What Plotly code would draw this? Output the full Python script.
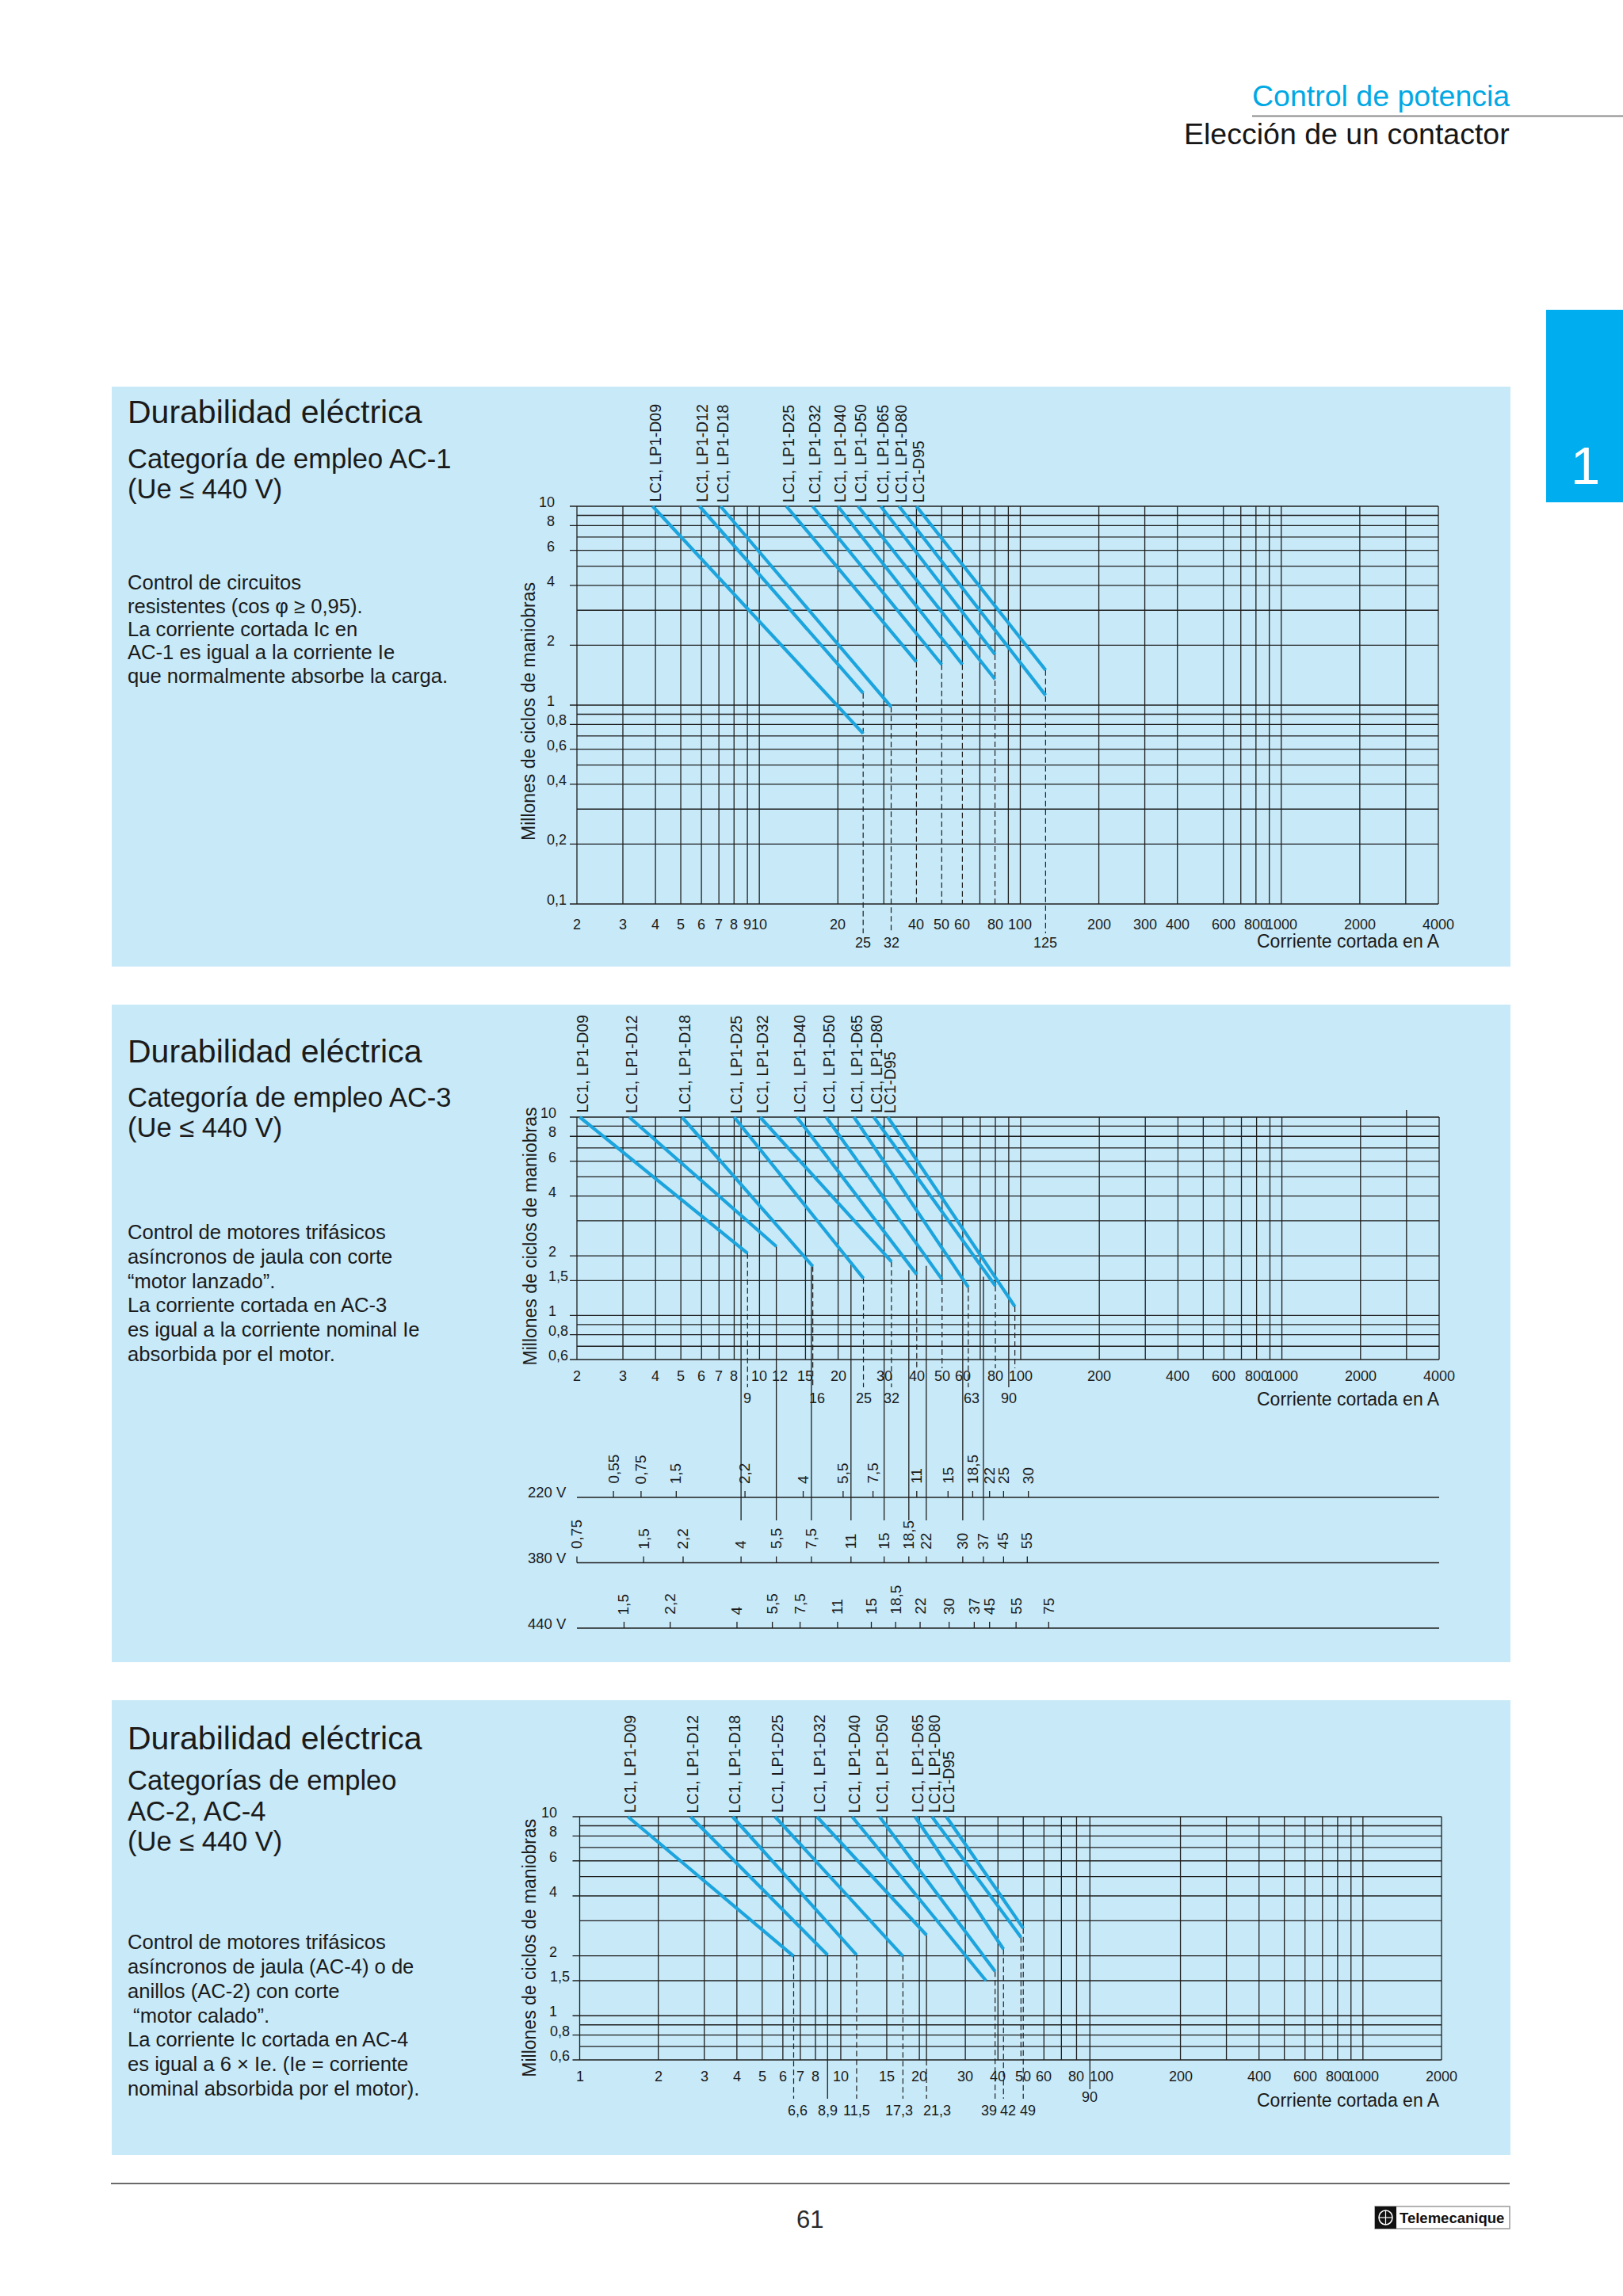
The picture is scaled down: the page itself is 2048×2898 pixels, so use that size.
import numpy as np
import plotly.graph_objects as go

W, H = 2048, 2898
FONT = "Liberation Sans, Arial, Helvetica, sans-serif"
INK = "#1b1b1b"
GRID = "#1f1f1f"
CURVE = "#1ba4dd"
PANEL = "#c7e9f8"
CYAN = "#00aeef"

# ============================ DATA ============================
curve_names = ["LC1, LP1-D09", "LC1, LP1-D12", "LC1, LP1-D18", "LC1, LP1-D25",
               "LC1, LP1-D32", "LC1, LP1-D40", "LC1, LP1-D50", "LC1, LP1-D65",
               "LC1, LP1-D80", "LC1-D95"]

# --- AC-1 : millions of operating cycles vs breaking current (A)
ac1_start_x = [3.9, 5.9, 7.1, 12.7, 16.0, 20.0, 23.9, 29.2, 34.3, 40.0]
ac1_end_x = [25, 25, 32, 40, 50, 60, 80, 80, 125, 125]
ac1_end_y = [0.72, 1.15, 0.98, 1.65, 1.60, 1.60, 1.35, 1.80, 1.12, 1.50]
ac1_grid_y = [10, 9, 8, 7, 6, 5, 4, 3, 2, 1, 0.9, 0.8, 0.7, 0.6, 0.5, 0.4, 0.3, 0.2, 0.1]
ac1_ytick = [10, 8, 6, 4, 2, 1, 0.8, 0.6, 0.4, 0.2, 0.1]
ac1_grid_x = [2, 3, 4, 5, 6, 7, 8, 9, 10, 20, 30, 70, 90, 100, 200, 300, 400,
              600, 700, 800, 900, 1000, 2000, 3000, 4000]
ac1_grid_x_upper = [40, 50, 60, 80]
ac1_xtick = [2, 3, 4, 5, 6, 7, 8, 9, 10, 20, 40, 50, 60, 80, 100, 200, 300, 400,
             600, 800, 1000, 2000, 4000]
ac1_xtick2 = [25, 32, 125]

# --- AC-3
ac3_start_x = [2.05, 3.17, 5.05, 8.0, 10.05, 13.9, 18.0, 23.0, 27.4, 31.0]
ac3_end_x = [9, 11.6, 16, 25, 32, 40, 50, 63, 80, 95]
ac3_end_y = [2.06, 2.23, 1.77, 1.54, 1.87, 1.61, 1.52, 1.39, 1.41, 1.11]
ac3_grid_y = [10, 9, 8, 7, 6, 5, 4, 3, 2, 1.5, 1, 0.9, 0.8, 0.7, 0.6]
ac3_ytick = [10, 8, 6, 4, 2, 1.5, 1, 0.8, 0.6]
ac3_grid_x = [2, 3, 4, 5, 6, 7, 8, 10, 15, 20, 70, 100, 200, 300, 400, 500, 600,
              700, 800, 900, 1000, 2000, 3000, 4000]
ac3_grid_x_upper = [40, 50, 80]
ac3_xtick = [2, 3, 4, 5, 6, 7, 8, 10, 12, 15, 20, 30, 40, 50, 60, 80, 100, 200,
             400, 600, 800, 1000, 2000, 4000]
ac3_xtick2 = [9, 16, 25, 32, 63, 90]
# top of the 380 V motor-current lines (4 ... 37 kW) inside the AC-3 chart
ac3_motor_top = [10, 2.23, 1.79, 1.82, 10, 1.69, 1.78, 10, 1.57]

# --- motor power (kW) scales and their currents on the AC-3 axis
volt_names = ["220 V", "380 V", "440 V"]
kw_220 = ["0,55", "0,75", "1,5", "2,2", "4", "5,5", "7,5", "11", "15", "18,5", "22", "25", "30"]
amp_220 = [2.76, 3.52, 4.8, 8.8, 14.7, 20.9, 27.2, 40, 52.7, 65.5, 76, 86, 107]
kw_380 = ["0,75", "1,5", "2,2", "4", "5,5", "7,5", "11", "15", "18,5", "22", "30", "37", "45", "55"]
amp_380 = [2.0, 3.6, 5.1, 8.5, 11.6, 15.8, 22.4, 30, 37.3, 43.5, 60, 72, 86, 106]
kw_440 = ["1,5", "2,2", "4", "5,5", "7,5", "11", "15", "18,5", "22", "30", "37", "45", "55", "75"]
amp_440 = [3.03, 4.55, 8.2, 11.2, 14.3, 19.9, 26.8, 33.2, 41.2, 53.2, 66.4, 76, 96, 128]

# --- AC-2 / AC-4
ac4_start_x = [1.53, 2.66, 3.85, 5.6, 8.1, 11.05, 14.07, 19.26, 22.35, 25.37]
ac4_end_x = [6.6, 8.9, 11.5, 17.3, 21.3, 36, 39, 42, 49, 50]
ac4_end_y = [1.99, 2.02, 2.02, 1.99, 2.54, 1.50, 1.67, 2.16, 2.48, 2.75]
ac4_grid_y = [10, 9, 8, 7, 6, 5, 4, 3, 2, 1.5, 1, 0.9, 0.8, 0.7, 0.6]
ac4_ytick = [10, 8, 6, 4, 2, 1.5, 1, 0.8, 0.6]
ac4_grid_x = [1, 2, 3, 4, 5, 6, 7, 8, 10, 15, 20, 30, 40, 60, 70, 80, 200, 300,
              400, 500, 600, 700, 800, 900, 1000, 2000]
ac4_grid_x_upper = [50]
ac4_xtick = [1, 2, 3, 4, 5, 6, 7, 8, 10, 15, 20, 30, 40, 50, 60, 80, 100, 200,
             400, 600, 800, 1000, 2000]
ac4_xtick2 = [6.6, 8.9, 11.5, 17.3, 21.3, 39, 42, 49]
ac4_xtick_mid = [90]

# ---- texts
panel_title = "Durabilidad eléctrica"
panel_sub = [["Categoría de empleo AC-1", "(Ue ≤ 440 V)"],
             ["Categoría de empleo AC-3", "(Ue ≤ 440 V)"],
             ["Categorías de empleo", "AC-2, AC-4", "(Ue ≤ 440 V)"]]
panel_body = [["Control de circuitos",
               "resistentes (cos φ ≥ 0,95).",
               "La corriente cortada Ic en",
               "AC-1 es igual a la corriente Ie",
               "que normalmente absorbe la carga."],
              ["Control de motores trifásicos",
               "asíncronos de jaula con corte",
               "“motor lanzado”.",
               "La corriente cortada en AC-3",
               "es igual a la corriente nominal Ie",
               "absorbida por el motor."],
              ["Control de motores trifásicos",
               "asíncronos de jaula (AC-4) o de",
               "anillos (AC-2) con corte",
               "\u00a0“motor calado”.",
               "La corriente Ic cortada en AC-4",
               "es igual a 6 × Ie. (Ie = corriente",
               "nominal absorbida por el motor)."]]
y_title = "Millones de ciclos de maniobras"
x_title = "Corriente cortada en A"

# ============================ STYLE / LAYOUT ============================
# how each curve end is continued downwards
ac1_drop = ["none", "row2", "row2", "axis", "axis", "axis", "none", "axis", "none", "row2"]
ac3_drop = ["row2", "none", "row2", "row2", "row2", "low", "low", "row2", "low", "low"]
ac4_drop = ["row2", "solid", "row2", "row2", "solidaxis", "none", "row2", "row2", "axis", "row2"]

shapes, annotations = [], []


def X(p):
    return p / W


def Y(p):
    return 1 - p / H


def txt(s, x, y, size, color=INK, xanchor="left", yanchor="middle", **kw):
    d = dict(text=s, x=x, y=y, xref=kw.pop("xref", "paper"), yref=kw.pop("yref", "paper"),
             showarrow=False, font=dict(family=FONT, size=size, color=color),
             xanchor=xanchor, yanchor=yanchor, borderpad=0)
    d.update(kw)
    annotations.append(d)


def base(bl, size):
    return Y(bl - 0.3465 * size)


def geometry(xa, xb, ya, yb, xdom, ydom):
    lxa, lxb = np.log10(xa[0]), np.log10(xb[0])
    ppx = (xb[1] - xa[1]) / (lxb - lxa)
    lya, lyb = np.log10(ya[0]), np.log10(yb[0])
    ppy = (yb[1] - ya[1]) / (lyb - lya)
    return dict(lxa=lxa, xa_p=xa[1], ppx=ppx, lya=lya, ya_p=ya[1], ppy=ppy,
                xrange=[lxa + (xdom[0] - xa[1]) / ppx, lxa + (xdom[1] - xa[1]) / ppx],
                yrange=[lya + (ydom[1] - ya[1]) / ppy, lya + (ydom[0] - ya[1]) / ppy],
                xdomain=[X(xdom[0]), X(xdom[1])], ydomain=[Y(ydom[1]), Y(ydom[0])])


def y_at(g, px):
    return 10 ** (g["lya"] + (px - g["ya_p"]) / g["ppy"])


def x_at(g, px):
    return 10 ** (g["lxa"] + (px - g["xa_p"]) / g["ppx"])


def fmt(v):
    return f"{v:g}".replace(".", ",")


G1 = geometry((2, 728), (4000, 1815), (10, 639), (0.1, 1141), (690, 1840), (590, 1210))
G2 = geometry((2, 728), (4000, 1816), (10, 1410), (0.6, 1716), (690, 1840), (1380, 1935))
G3 = geometry((1, 731.5), (2000, 1819), (10, 2293), (0.6, 2600), (690, 1840), (2260, 2665))

fig = go.Figure()
axis_common = dict(showgrid=False, zeroline=False, showline=False, showticklabels=False,
                   ticks="", fixedrange=True)

LBL = 19.5      # curve-name font
TICK = 18       # tick label font


def build(n, g, start_x, end_x, end_y, drop, grid_y, ytick, grid_x, grid_x_upper,
          xtick, xtick2, pos, extra_solid=(), shift2=None):
    xr = "x" if n == 1 else f"x{n}"
    yr = "y" if n == 1 else f"y{n}"
    shift2 = shift2 or {}
    ytop, ybot = max(grid_y), min(grid_y)
    xmin, xmax = min(grid_x), max(grid_x)
    x_stub = x_at(g, g["xa_p"] - 9)
    y_row2 = y_at(g, pos["row2_end"])
    y_low = y_at(g, pos.get("low", pos["row2_end"]))
    sx, sy, dx, dy = [], [], [], []

    def solid(x0, y0, x1, y1):
        sx.extend([x0, x1, None]); sy.extend([y0, y1, None])

    def dashed(x0, y0, x1, y1):
        dx.extend([x0, x1, None]); dy.extend([y0, y1, None])

    for yv in grid_y:
        solid(x_stub if yv in ytick else xmin, yv, xmax, yv)
    for xv in grid_x:
        solid(xv, ybot, xv, ytop)
    end_top = {}
    for ex, ey in zip(end_x, end_y):
        end_top[ex] = max(end_top.get(ex, 0), ey)
    for xv in grid_x_upper:
        solid(xv, end_top[xv], xv, ytop)
    for ex, ey, kind in zip(end_x, end_y, drop):
        if kind == "row2":
            dashed(ex, ey, ex, y_row2)
        elif kind == "axis":
            dashed(ex, ey, ex, ybot)
        elif kind == "low":
            dashed(ex, ey, ex, y_low)
        elif kind == "solid":
            solid(ex, ey, ex, y_row2)
        elif kind == "solidaxis":
            solid(ex, ey, ex, ybot)
            dashed(ex, ybot, ex, y_row2)
    for xv, y0, y1 in extra_solid:
        solid(xv, y0, xv, y1)

    cx, cy = [], []
    for s, ex, ey in zip(start_x, end_x, end_y):
        cx.extend([s, ex, None]); cy.extend([ytop, ey, None])

    fig.add_trace(go.Scatter(x=sx, y=sy, mode="lines", xaxis=xr, yaxis=yr,
                             line=dict(color=GRID, width=1.3), hoverinfo="skip", showlegend=False))
    fig.add_trace(go.Scatter(x=dx, y=dy, mode="lines", xaxis=xr, yaxis=yr,
                             line=dict(color=GRID, width=1.2, dash="7px,4px"),
                             hoverinfo="skip", showlegend=False))
    fig.add_trace(go.Scatter(x=cx, y=cy, mode="lines", xaxis=xr, yaxis=yr,
                             line=dict(color=CURVE, width=4.2), hoverinfo="skip", showlegend=False))

    # curve names
    for s, name in zip(start_x, curve_names):
        txt(name, np.log10(s), Y(pos["top"] - 4), LBL, xref=xr, xanchor="center",
            yanchor="bottom", textangle=-90, xshift=3)
    # y tick labels (decimal aligned)
    for v in ytick:
        t = fmt(v)
        if "," in t:
            txt(t, X(pos["yl_left"]), np.log10(v), TICK, yref=yr, xanchor="left", yshift=5)
        else:
            txt(t, X(pos["yl_right"]), np.log10(v), TICK, yref=yr, xanchor="right", yshift=5)
    # x tick labels
    for v in xtick:
        txt(fmt(v), np.log10(v), Y(pos["row1"]), TICK, xref=xr, xanchor="center")
    for v in xtick2:
        txt(fmt(v), np.log10(v), Y(pos["row2"]), TICK, xref=xr, xanchor="center",
            xshift=shift2.get(v, 0))
    # axis titles
    txt(y_title, X(pos["ytitle"][0]), Y(pos["ytitle"][1]), 23, xanchor="center",
        textangle=-90)
    txt(x_title, X(1818), Y(pos["xtitle"]), 23, xanchor="right")

    fig.layout[("xaxis" if n == 1 else f"xaxis{n}")] = dict(
        type="log", range=g["xrange"], domain=g["xdomain"], anchor=yr, **axis_common)
    fig.layout[("yaxis" if n == 1 else f"yaxis{n}")] = dict(
        type="log", range=g["yrange"], domain=g["ydomain"], anchor=xr, **axis_common)


# ---------- chart 1 : AC-1
build(1, G1, ac1_start_x, ac1_end_x, ac1_end_y, ac1_drop, ac1_grid_y, ac1_ytick,
      ac1_grid_x, ac1_grid_x_upper, ac1_xtick, ac1_xtick2,
      dict(top=639, row1=1167, row2=1190, row2_end=1178, yl_right=701, yl_left=688.5,
           ytitle=(667, 898), xtitle=1188))

# ---------- chart 2 : AC-3
motor_x = amp_380[3:12]
ext2 = [(a, t, y_at(G2, 1919)) for a, t in zip(motor_x, ac3_motor_top)]
ext2 += [(90, 10, y_at(G2, 1751)), (3000, 10, y_at(G2, 1401))]
build(2, G2, ac3_start_x, ac3_end_x, ac3_end_y, ac3_drop, ac3_grid_y, ac3_ytick,
      ac3_grid_x, ac3_grid_x_upper, ac3_xtick, ac3_xtick2,
      dict(top=1410, row1=1737, row2=1765, row2_end=1751, low=1727, yl_right=702.5,
           yl_left=690.5, ytitle=(668.5, 1561), xtitle=1766),
      extra_solid=ext2, shift2={16: 5, 63: 4})

# ---------- chart 3 : AC-2 / AC-4
ext3 = [(v, 10, y_at(G3, 2637)) for v in ac4_xtick_mid]
build(3, G3, ac4_start_x, ac4_end_x, ac4_end_y, ac4_drop, ac4_grid_y, ac4_ytick,
      ac4_grid_x, ac4_grid_x_upper, ac4_xtick, ac4_xtick2,
      dict(top=2293, row1=2620.5, row2=2664, row2_end=2649, yl_right=704, yl_left=692.5,
           ytitle=(667.7, 2459), xtitle=2651),
      extra_solid=ext3, shift2={6.6: 5, 17.3: -5, 21.3: 13, 39: -8, 42: 6, 49: 9})
for v in ac4_xtick_mid:
    txt(fmt(v), np.log10(v), Y(2647), TICK, xref="x3", xanchor="center")

# ---------- motor power scales under chart 2 (subplot 4 shares the AC-3 current axis)
ROW_STEP = 82.5
row_base_px = 2055          # 440 V row
y4_dom = (1800, 2090)
y4_range = [(row_base_px - y4_dom[1]) / ROW_STEP, (row_base_px - y4_dom[0]) / ROW_STEP]
fig.layout["xaxis4"] = dict(type="log", range=G2["xrange"], domain=G2["xdomain"],
                            anchor="y4", **axis_common)
fig.layout["yaxis4"] = dict(type="linear", range=y4_range, domain=[Y(y4_dom[1]), Y(y4_dom[0])],
                            anchor="x4", **axis_common)
rows = [(kw_220, amp_220), (kw_380, amp_380), (kw_440, amp_440)]
vx, vy = [], []
tick_len = 8 / ROW_STEP
lab_gap = 16 / ROW_STEP
for i, (name, (kws, amps)) in enumerate(zip(volt_names, rows)):
    lvl = len(rows) - 1 - i
    vx.extend([min(ac3_grid_x), max(ac3_grid_x), None]); vy.extend([lvl, lvl, None])
    for k, a in zip(kws, amps):
        vx.extend([a, a, None]); vy.extend([lvl, lvl + tick_len, None])
        txt(k, np.log10(a), lvl + lab_gap, 19, xref="x4", yref="y4", xanchor="center",
            yanchor="bottom", textangle=-90)
    txt(name, X(716), lvl, 18.5, yref="y4", xanchor="right", yshift=6)
fig.add_trace(go.Scatter(x=vx, y=vy, mode="lines", xaxis="x4", yaxis="y4",
                         line=dict(color=GRID, width=1.3), hoverinfo="skip", showlegend=False))

# ============================ PAGE FURNITURE ============================
for (x0, y0, x1, y1) in [(141, 488, 1906, 1220), (141, 1268, 1906, 2098), (141, 2146, 1906, 2720)]:
    shapes.append(dict(type="rect", xref="paper", yref="paper", x0=X(x0), x1=X(x1),
                       y0=Y(y1), y1=Y(y0), fillcolor=PANEL, line=dict(width=0), layer="below"))

# panel texts
SUB = 34.5
title_bl = [534, 1341.5, 2208]
sub_bl = [[590.5, 629.2], [1396.5, 1435.2], [2259, 2297.7, 2336.4]]
body_bl = [(744, 29.4), (1564, 30.7), (2460, 30.8)]
for p in range(3):
    txt(panel_title, X(160), base(title_bl[p], 41), 41)
    for s, bl in zip(panel_sub[p], sub_bl[p]):
        txt(s, X(160), base(bl, SUB), SUB)
    b0, step = body_bl[p]
    for j, line in enumerate(panel_body[p]):
        txt(line, X(160), base(b0 + j * step, 25.6), 25.6)

# header
txt("Control de potencia", X(1906), base(133.6, 37.5), 37.5, color="#00a8e4", xanchor="right")
txt("Elección de un contactor", X(1906), base(181.7, 37.5), 37.5, color="#161616",
    xanchor="right")
shapes.append(dict(type="line", xref="paper", yref="paper", x0=X(1580), x1=X(2048),
                   y0=Y(146.6), y1=Y(146.6), line=dict(color="#8a8a8a", width=2)))
# chapter tab
shapes.append(dict(type="rect", xref="paper", yref="paper", x0=X(1951), x1=X(2048),
                   y0=Y(634), y1=Y(391), fillcolor=CYAN, line=dict(width=0), layer="below"))
txt("1", X(2000), base(611, 67), 67, color="white", xanchor="center")

# footer
shapes.append(dict(type="line", xref="paper", yref="paper", x0=X(140), x1=X(1905),
                   y0=Y(2756), y1=Y(2756), line=dict(color="#6a6a6a", width=2)))
txt("61", X(1022), Y(2801), 31, color="#2a2a2a", xanchor="center")
shapes.append(dict(type="rect", xref="paper", yref="paper", x0=X(1735), x1=X(1905),
                   y0=Y(2813), y1=Y(2785), fillcolor="white", line=dict(color="#9a9a9a", width=1.5)))
shapes.append(dict(type="rect", xref="paper", yref="paper", x0=X(1735), x1=X(1762),
                   y0=Y(2813), y1=Y(2785), fillcolor="#111111", line=dict(width=0)))
shapes.append(dict(type="circle", xref="paper", yref="paper", x0=X(1740), x1=X(1757),
                   y0=Y(2808), y1=Y(2790), fillcolor="#111111", line=dict(color="white", width=1.5)))
shapes.append(dict(type="line", xref="paper", yref="paper", x0=X(1740), x1=X(1757),
                   y0=Y(2799), y1=Y(2799), line=dict(color="white", width=1.2)))
shapes.append(dict(type="line", xref="paper", yref="paper", x0=X(1748.5), x1=X(1748.5),
                   y0=Y(2808), y1=Y(2790), line=dict(color="white", width=1.2)))
txt("<b>Telemecanique</b>", X(1765), Y(2799), 18.5, color="#111111", xanchor="left")

fig.update_layout(width=W, height=H, margin=dict(l=0, r=0, t=0, b=0),
                  paper_bgcolor="white", plot_bgcolor="rgba(0,0,0,0)",
                  shapes=shapes, annotations=annotations, showlegend=False,
                  font=dict(family=FONT, color=INK))

fig.write_html("out.html", config={"displayModeBar": False, "staticPlot": True},
               post_script="document.body.style.margin='0';document.body.style.overflow='hidden';")
